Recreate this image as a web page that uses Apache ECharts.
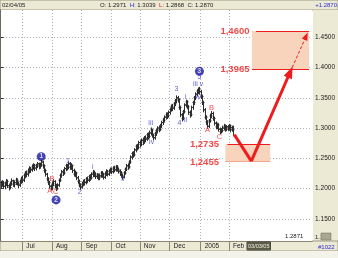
<!DOCTYPE html>
<html><head><meta charset="utf-8">
<script src="https://cdn.jsdelivr.net/npm/echarts@6/dist/echarts.min.js"></script>
<style>html,body{margin:0;padding:0;background:#fff}#c{width:338px;height:258px}</style>
</head><body><div id="c"></div>
<script>
// daily bars: [open, close, low, high]
const bars = [
[1.210,1.206,1.201,1.213],[1.206,1.210,1.203,1.214],[1.210,1.204,1.200,1.213],[1.204,1.208,1.199,1.211],
[1.208,1.212,1.204,1.216],[1.212,1.205,1.201,1.215],[1.205,1.202,1.197,1.208],[1.202,1.209,1.199,1.212],
[1.209,1.213,1.205,1.217],[1.213,1.207,1.203,1.215],[1.207,1.210,1.202,1.214],[1.210,1.214,1.206,1.218],
[1.214,1.209,1.205,1.217],[1.209,1.206,1.201,1.212],[1.206,1.212,1.203,1.215],[1.212,1.216,1.208,1.220],
[1.216,1.214,1.209,1.221],[1.214,1.222,1.211,1.225],[1.222,1.226,1.217,1.229],[1.226,1.224,1.219,1.230],
[1.224,1.229,1.220,1.233],[1.229,1.233,1.225,1.237],[1.233,1.231,1.226,1.236],[1.231,1.236,1.228,1.240],
[1.236,1.239,1.231,1.242],[1.239,1.234,1.229,1.241],[1.234,1.238,1.230,1.241],[1.238,1.241,1.234,1.244],
[1.241,1.237,1.232,1.243],[1.237,1.240,1.233,1.243],[1.240,1.244,1.236,1.247],[1.244,1.238,1.233,1.246],
[1.238,1.230,1.226,1.240],[1.230,1.224,1.220,1.233],[1.224,1.216,1.212,1.226],[1.216,1.210,1.206,1.219],
[1.210,1.204,1.200,1.213],[1.204,1.201,1.197,1.207],[1.201,1.208,1.198,1.212],[1.208,1.212,1.204,1.216],
[1.212,1.205,1.201,1.214],[1.205,1.200,1.196,1.208],[1.200,1.206,1.198,1.209],[1.206,1.214,1.203,1.217],
[1.214,1.222,1.211,1.225],[1.222,1.228,1.218,1.231],[1.228,1.226,1.221,1.232],[1.226,1.233,1.223,1.236],
[1.233,1.238,1.229,1.241],[1.238,1.235,1.230,1.241],[1.235,1.241,1.232,1.245],[1.241,1.236,1.231,1.244],
[1.236,1.238,1.231,1.242],[1.238,1.230,1.226,1.240],[1.230,1.224,1.220,1.233],[1.224,1.226,1.219,1.230],
[1.226,1.218,1.214,1.228],[1.218,1.212,1.208,1.221],[1.212,1.206,1.202,1.215],[1.206,1.203,1.198,1.209],
[1.203,1.208,1.200,1.211],[1.208,1.212,1.204,1.215],[1.212,1.210,1.205,1.216],[1.210,1.216,1.207,1.219],
[1.216,1.214,1.209,1.220],[1.214,1.220,1.211,1.223],[1.220,1.218,1.213,1.224],[1.218,1.224,1.215,1.227],
[1.224,1.227,1.219,1.231],[1.227,1.224,1.219,1.230],[1.224,1.220,1.216,1.227],[1.220,1.222,1.216,1.226],
[1.222,1.218,1.214,1.225],[1.218,1.221,1.214,1.225],[1.221,1.226,1.218,1.229],[1.226,1.223,1.218,1.229],
[1.223,1.219,1.215,1.226],[1.219,1.225,1.216,1.228],[1.225,1.228,1.221,1.232],[1.228,1.224,1.220,1.231],
[1.224,1.229,1.221,1.232],[1.229,1.232,1.225,1.235],[1.232,1.228,1.224,1.235],[1.228,1.234,1.225,1.237],
[1.234,1.231,1.227,1.238],[1.231,1.236,1.228,1.239],[1.236,1.232,1.228,1.239],[1.232,1.229,1.225,1.235],
[1.229,1.226,1.221,1.232],[1.226,1.222,1.218,1.229],[1.222,1.219,1.215,1.225],[1.219,1.226,1.217,1.229],
[1.226,1.232,1.223,1.235],[1.232,1.238,1.229,1.241],[1.238,1.236,1.231,1.242],[1.236,1.244,1.233,1.247],
[1.244,1.252,1.241,1.255],[1.252,1.258,1.248,1.261],[1.258,1.256,1.251,1.262],[1.256,1.264,1.253,1.267],
[1.264,1.270,1.260,1.273],[1.270,1.268,1.263,1.274],[1.268,1.276,1.265,1.279],[1.276,1.273,1.268,1.280],
[1.273,1.280,1.270,1.283],[1.280,1.277,1.272,1.284],[1.277,1.284,1.274,1.287],[1.284,1.282,1.277,1.288],
[1.282,1.289,1.279,1.292],[1.289,1.286,1.281,1.293],[1.286,1.292,1.283,1.296],[1.292,1.297,1.288,1.301],
[1.297,1.288,1.284,1.299],[1.288,1.284,1.280,1.291],[1.284,1.291,1.281,1.294],[1.291,1.296,1.287,1.299],
[1.296,1.300,1.292,1.303],[1.300,1.298,1.293,1.304],[1.298,1.304,1.295,1.307],[1.304,1.309,1.300,1.312],
[1.309,1.313,1.305,1.317],[1.313,1.318,1.309,1.321],[1.318,1.322,1.314,1.326],[1.322,1.320,1.315,1.326],
[1.320,1.326,1.317,1.329],[1.326,1.331,1.322,1.334],[1.331,1.336,1.327,1.339],[1.336,1.333,1.328,1.340],
[1.333,1.340,1.330,1.343],[1.340,1.345,1.336,1.348],[1.345,1.350,1.341,1.354],[1.350,1.347,1.342,1.353],
[1.347,1.334,1.330,1.349],[1.334,1.322,1.318,1.337],[1.322,1.316,1.311,1.325],[1.316,1.327,1.313,1.330],
[1.327,1.338,1.324,1.341],[1.338,1.343,1.334,1.347],[1.343,1.335,1.331,1.346],[1.335,1.326,1.322,1.338],
[1.326,1.322,1.317,1.329],[1.322,1.334,1.319,1.337],[1.334,1.342,1.330,1.345],[1.342,1.350,1.338,1.353],
[1.350,1.356,1.346,1.359],[1.356,1.361,1.352,1.364],[1.361,1.364,1.356,1.367],[1.364,1.360,1.355,1.368],
[1.360,1.352,1.348,1.363],[1.352,1.342,1.338,1.355],[1.342,1.330,1.326,1.345],[1.330,1.318,1.314,1.333],
[1.318,1.310,1.305,1.321],[1.310,1.303,1.299,1.313],[1.303,1.312,1.300,1.315],[1.312,1.320,1.309,1.324],
[1.320,1.324,1.316,1.328],[1.324,1.316,1.312,1.327],[1.316,1.308,1.304,1.319],[1.308,1.302,1.298,1.311],
[1.302,1.305,1.298,1.309],[1.305,1.298,1.294,1.308],[1.298,1.294,1.290,1.301],[1.294,1.296,1.291,1.300],
[1.296,1.300,1.293,1.304],[1.300,1.303,1.296,1.307],[1.303,1.298,1.294,1.306],[1.298,1.302,1.295,1.305],
[1.302,1.299,1.295,1.305],[1.299,1.304,1.296,1.307],[1.304,1.297,1.293,1.306],[1.301,1.297,1.294,1.304],
[1.2971,1.2870,1.2868,1.3039]
];
// x axis: trading-day index from 2004-06-09
const monthTickIdx = [16, 38, 60, 82, 103, 125, 148, 169];
const monthLabels = ['Jul', 'Aug', 'Sep', 'Oct', 'Nov', 'Dec', '2005', 'Feb'];
const cursorIdx = [191];
const cursorLabel = '03/03/05';
const priceTicks = [1.15, 1.20, 1.25, 1.30, 1.35, 1.40, 1.45];
// header quote
const quoteDate = '02/04/05';
const quote = {O: '1.2971', H: '1.3039', L: '1.2868', C: '1.2870'};
// wave annotations: [dayIndex, price, text]
const circleWaves = [[30, 1.2528, '1'], [41, 1.1815, '2'], [147.1, 1.3936, '3']];
const blueWaves = [[49.7, 1.2461, '1'], [58.5, 1.1947, '2'], [68.1, 1.2362, 'i'], [90.3, 1.2163, 'ii'],
  [111, 1.3075, 'iii'], [111.7, 1.2776, 'iv'], [130.1, 1.3638, '3'], [132.3, 1.3075, '4'],
  [136.8, 1.3505, 'i'], [136.8, 1.3124, 'ii'], [144.1, 1.3721, 'iii'], [148.6, 1.3721, 'v'],
  [146.4, 1.3505, 'iv'], [147.1, 1.3837, '5']];
const redWaves = [[36.4, 1.1964, 'A'], [37.9, 1.2163, 'B'], [40.8, 1.1947, 'C'],
  [153, 1.2975, 'A'], [156, 1.334, 'B'], [161.9, 1.2859, 'C']];
// target / support zones
const targetZone = [1.3965, 1.4600];
const targetZoneIdx = [186, 228.3];
const supportZone = [1.2455, 1.2735];
const supportZoneIdx = [166.3, 199.5];
const zoneLabelIdx = [173.4, 150.8];
// projected path
const projIdx = [172.9, 185.5, 214.3];
const projPrice = [1.2892, 1.2455, 1.3925];
const extIdx = [214.3, 226.1];
const extPrice = [1.3925, 1.4517];

const RED = '#ee1c1c', BLUE = '#3434d0', TAN = '#ece9d4', FONT = 'Liberation Sans';
const chart = echarts.init(document.getElementById('c'), null, {renderer: 'canvas'});
const fmt = v => v.toFixed(4).replace('.', ',');
const ohlc = bars.map((b, i) => [i, b[0], b[1], b[2], b[3]]);
const textSeries = (name, arr, color, size, bold) => ({
  name, type: 'scatter', symbolSize: 0, z: 6, silent: true,
  data: arr.map(a => [a[0], a[1], a[2]]),
  label: {show: true, position: 'inside', formatter: p => p.data[2], color,
    fontSize: size, fontFamily: FONT, fontWeight: bold ? 'bold' : 'normal'}
});
const small = {fontSize: 6, fontFamily: FONT};

chart.setOption({
  animation: false,
  grid: {left: 0, right: 25, top: 10, bottom: 17, show: true, backgroundColor: '#fff', borderWidth: 0},
  graphic: [
    {type: 'rect', z: -5, shape: {x: 0, y: 0, width: 338, height: 10}, style: {fill: TAN, stroke: '#9c9a86', lineWidth: 1}},
    {type: 'rect', z: -5, shape: {x: 313, y: 10, width: 25, height: 241}, style: {fill: TAN}},
    {type: 'rect', z: -5, shape: {x: 0, y: 241, width: 338, height: 10}, style: {fill: TAN, stroke: '#9c9a86', lineWidth: 1}},
    {type: 'rect', z: -5, shape: {x: 0, y: 251, width: 338, height: 7}, style: {fill: '#f4f3ea'}},
    {type: 'rect', z: 9, shape: {x: 321, y: 233, width: 10, height: 7}, style: {fill: '#a8a890', stroke: '#6a6a58', lineWidth: 0.5}},
    {type: 'text', z: 10, left: 2, top: 2, style: Object.assign({text: quoteDate, fill: '#222'}, small)},
    {type: 'text', z: 10, left: 100, top: 2, style: Object.assign({
      text: 'O: ' + quote.O + '  {h|H:} ' + quote.H + '  {l|L:} ' + quote.L + '  C: ' + quote.C,
      fill: '#222', rich: {h: {fill: '#2a2ad8', fontSize: 6, fontFamily: FONT}, l: {fill: '#e02020', fontSize: 6, fontFamily: FONT}}}, small)},
    {type: 'text', z: 10, right: 1, top: 2, style: Object.assign({text: '+' + quote.C, fill: '#2a2ad8'}, small)},
    {type: 'text', z: 10, left: 285, top: 233, style: Object.assign({text: '1.2871', fill: '#222'}, small)},
    {type: 'text', z: 8, left: 315, top: 234, style: Object.assign({text: '1.1', fill: '#222'}, small)},
    {type: 'text', z: 10, left: 318, top: 244, style: Object.assign({text: '#1022', fill: '#2a2ad8'}, small)}
  ],
  xAxis: [{
    type: 'value', min: -0.5, max: 230.5, position: 'bottom',
    axisLine: {show: true, lineStyle: {color: '#8a8670', width: 1}},
    axisTick: {show: true, customValues: monthTickIdx, length: 10, lineStyle: {color: '#8a8670'}},
    splitLine: {show: true, lineStyle: {color: '#b0b0b0', type: [1, 2], width: 1}},
    axisLabel: {customValues: monthTickIdx, formatter: v => monthLabels[monthTickIdx.indexOf(v)],
      align: 'left', padding: [0, 0, 0, 4], margin: 2, fontSize: 6.5, fontFamily: FONT, color: '#222'}
  }, {
    type: 'value', min: -0.5, max: 230.5, position: 'bottom',
    axisLine: {show: false}, axisTick: {show: false}, splitLine: {show: false},
    axisLabel: {customValues: cursorIdx, formatter: () => cursorLabel, margin: 1, fontSize: 5.5, fontFamily: FONT,
      color: '#f0f0e0', backgroundColor: '#5c5c48', padding: [1, 1, 1, 1], borderColor: '#333', borderWidth: 0.5}
  }],
  yAxis: {
    type: 'value', position: 'right', min: 1.1137, max: 1.4948,
    axisLine: {show: true, lineStyle: {color: '#6a6a60'}},
    axisTick: {show: true, customValues: priceTicks, length: 3, lineStyle: {color: '#333'}},
    splitLine: {show: true, lineStyle: {color: '#b0b0b0', type: [1, 2], width: 1}},
    axisLabel: {customValues: priceTicks, formatter: v => v.toFixed(4), margin: 3, fontSize: 6.5, fontFamily: FONT, color: '#222'}
  },
  series: [
    {
      name: 'zones', type: 'line', data: [], z: 1, silent: true,
      markArea: {silent: true, itemStyle: {color: '#f9d4bd'}, data: [
        [{coord: [targetZoneIdx[0], targetZone[0]]}, {coord: [targetZoneIdx[1], targetZone[1]]}],
        [{coord: [supportZoneIdx[0], supportZone[0]]}, {coord: [supportZoneIdx[1], supportZone[1]]}]
      ]},
      markLine: {silent: true, symbol: ['none', 'none'], label: {show: false}, lineStyle: {color: RED, width: 1.2, type: 'solid'}, data: [
        [{coord: [targetZoneIdx[0] + 3, targetZone[1]]}, {coord: [targetZoneIdx[1], targetZone[1]]}],
        [{coord: [targetZoneIdx[0], targetZone[0]]}, {coord: [targetZoneIdx[1], targetZone[0]]}],
        [{coord: [supportZoneIdx[0] + 1.5, supportZone[1]]}, {coord: [supportZoneIdx[1], supportZone[1]]}],
        [{coord: [supportZoneIdx[0], supportZone[0]], lineStyle: {color: '#f3a58a'}}, {coord: [supportZoneIdx[1], supportZone[0]]}]
      ]}
    },
    {
      name: 'ohlc', type: 'custom', z: 3, silent: true,
      data: ohlc, encode: {x: 0, y: [1, 2, 3, 4]},
      renderItem: (params, api) => {
        const x = api.value(0);
        const o = api.coord([x, api.value(1)]);
        const c = api.coord([x, api.value(2)]);
        const l = api.coord([x, api.value(3)]);
        const h = api.coord([x, api.value(4)]);
        const px = Math.round(l[0]) + 0.5;
        const st = {stroke: '#2e2e2e', lineWidth: 1};
        return {type: 'group', children: [
          {type: 'line', shape: {x1: px, y1: h[1], x2: px, y2: l[1]}, style: st},
          {type: 'line', shape: {x1: px - 2, y1: o[1], x2: px, y2: o[1]}, style: st},
          {type: 'line', shape: {x1: px, y1: c[1], x2: px + 2, y2: c[1]}, style: st}
        ]};
      }
    },
    {
      name: 'projection', type: 'line', z: 5, silent: true, symbol: 'none',
      data: projIdx.slice(0, 2).map((v, i) => [v, projPrice[i]]),
      lineStyle: {color: RED, width: 3},
      markLine: {silent: true, label: {show: false}, data: [
        [{coord: [projIdx[1], projPrice[1]], symbol: 'none', lineStyle: {color: RED, width: 3, type: 'solid'}},
         {coord: [projIdx[2], projPrice[2]], symbol: 'triangle', symbolSize: [9, 12]}],
        [{coord: [extIdx[0], extPrice[0]], symbol: 'none', lineStyle: {color: RED, width: 1, type: [3, 2]}},
         {coord: [extIdx[1], extPrice[1]], symbol: 'triangle', symbolSize: [6, 8]}]
      ]}
    },
    {
      name: 'circles', type: 'scatter', z: 6, silent: true, symbol: 'circle', symbolSize: 9,
      itemStyle: {color: '#18189e'},
      data: circleWaves.map(a => [a[0], a[1], a[2]]),
      label: {show: true, position: 'inside', formatter: p => p.data[2], color: '#fff', fontSize: 6.5, fontWeight: 'bold', fontFamily: FONT}
    },
    textSeries('blue', blueWaves, BLUE, 7, false),
    textSeries('red', redWaves, RED, 7.5, false),
    textSeries('zoneLabels', [
      [zoneLabelIdx[0], targetZone[1], fmt(targetZone[1])],
      [zoneLabelIdx[0], targetZone[0], fmt(targetZone[0])],
      [zoneLabelIdx[1], supportZone[1], fmt(supportZone[1])],
      [zoneLabelIdx[1], supportZone[0] - 0.002, fmt(supportZone[0])]
    ], RED, 9.5, true)
  ]
});
</script></body></html>
